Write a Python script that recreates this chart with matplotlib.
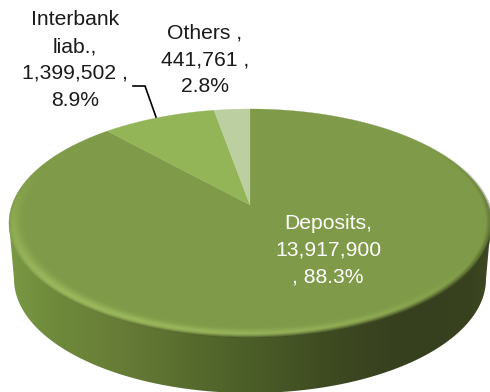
import numpy as np
import matplotlib
matplotlib.use('Agg')
import matplotlib.pyplot as plt
from matplotlib.colors import to_rgb
from matplotlib.patches import Polygon

plt.rcParams['font.family'] = ['Liberation Sans', 'DejaVu Sans']

# Funding structure, clockwise from twelve o'clock
names = ['Deposits', 'Interbank liab.', 'Others']
values = [13917900, 1399502, 441761]
percents = [88.3, 8.9, 2.8]
labels = ['Deposits,\n13,917,900\n, 88.3%',
          'Interbank\nliab.,\n1,399,502 ,\n8.9%',
          'Others ,\n441,761 ,\n2.8%']
colors = ['#7f9a48', '#94b557', '#bccfa0']

W, H = 490, 392

# Tilted disc: projective map from the unit circle to the screen
CX, CY = 250.0, 205.0
A, B, K = 238.0, 111.2, 0.158
DEPTH = 56.0


def project(u, v):
    w = 1 + K * v
    return CX + A * u / w, CY - B * v / w


def unproject(x, y):
    # inverse of project, used for the rim shading
    px = (x - CX) / A
    py = (CY - y) / B
    v = py / (1 - K * py)
    u = px * (1 + K * v)
    return u, v


fig = plt.figure(figsize=(W / 100, H / 100), dpi=100)
ax = fig.add_axes([0, 0, 1, 1])
ax.set_xlim(0, W)
ax.set_ylim(H, 0)
ax.axis('off')

# Side wall with a left-to-right gradient
t = np.linspace(0, 2 * np.pi, 721)
rim_x, rim_y = project(np.sin(t), np.cos(t))
left = np.argmin(rim_x)
right = np.argmax(rim_x)
low_t = np.linspace(np.pi, 0, 361)
low_x = 250 + 236 * np.cos(low_t)
low_y = 223 + DEPTH + 114 * np.sin(low_t)
wall_pts = np.column_stack([
    np.r_[rim_x[left], low_x, rim_x[right]],
    np.r_[rim_y[left], low_y, rim_y[right]],
])

stops_x = [5, 45, 130, 200, 260, 320, 400, 470, 490]
stops_c = ['#7b9b45', '#708c3c', '#667a36', '#55692d', '#4a5b27', '#3f4c22',
           '#363f1e', '#38421f', '#3e4a22']
rgb = np.array([to_rgb(c) for c in stops_c])
xs = np.arange(W) + 0.5
wall = np.stack([np.interp(xs, stops_x, rgb[:, i]) for i in range(3)], axis=1)
wall = wall[np.newaxis, :, :]
im = ax.imshow(wall, extent=(0, W, H, 0), aspect='auto', zorder=1)
patch = Polygon(wall_pts, closed=True, transform=ax.transData, fc='none', ec='none')
ax.add_patch(patch)
im.set_clip_path(patch)

# Top face slices, sized from the values
fractions = np.array(values) / np.sum(values)
edges = np.r_[0, np.cumsum(fractions)] * 2 * np.pi
for start, end, color in zip(edges[:-1], edges[1:], colors):
    a = np.linspace(start, end, 300)
    sx, sy = project(np.sin(a), np.cos(a))
    pts = np.column_stack([np.r_[CX, sx], np.r_[CY, sy]])
    ax.add_patch(Polygon(pts, closed=True, fc=color, ec=color, lw=0.2, zorder=2))

# Bevel along the rim: soft light at lower left, dark at lower right
gx, gy = np.meshgrid(np.arange(W * 2) / 2 + 0.25, np.arange(H * 2) / 2 + 0.25)
u, v = unproject(gx, gy)
r = np.hypot(u, v)
ang = np.arctan2(v, u)
light = np.clip(np.cos(ang - np.radians(245)), 0, 1) ** 1.2
shade = np.clip(np.cos(ang - np.radians(-50)), 0, 1) ** 1.5
width = np.where(r < 0.985, 0.03, 0.012)
glow = np.exp(-((r - 0.985) / width) ** 2) * light
dark = np.clip((r - 0.975) / 0.025, 0, 1) * shade
inside = r <= 1.004
overlay = np.zeros(gx.shape + (4,))
hi = np.array(to_rgb('#a3c163'))
lo = np.array(to_rgb('#3b4620'))
g = glow * 0.85
d = dark * 0.9
alpha = np.clip(g + d, 0, 1)
mix = (g / np.maximum(g + d, 1e-6))[..., np.newaxis]
overlay[..., :3] = mix * hi + (1 - mix) * lo
overlay[..., 3] = alpha * inside
ax.imshow(overlay, extent=(0, W, H, 0), aspect='auto', zorder=3,
          interpolation='bilinear')
ax.set_xlim(0, W)
ax.set_ylim(H, 0)

# Labels and the leader line for the interbank slice
font = dict(fontsize=15.2, ha='center', va='center', linespacing=1.52, zorder=5)
ax.text(328, 250, labels[0], color='white', **font)
ax.text(75, 60, labels[1], color='#1a1a1a', **font)
ax.text(205, 60, labels[2], color='#1a1a1a', **font)
ax.plot([133, 145, 156], [86, 86, 117], color='black', lw=1.2, zorder=4,
        solid_joinstyle='miter')

fig.savefig('out.png', dpi=100)
